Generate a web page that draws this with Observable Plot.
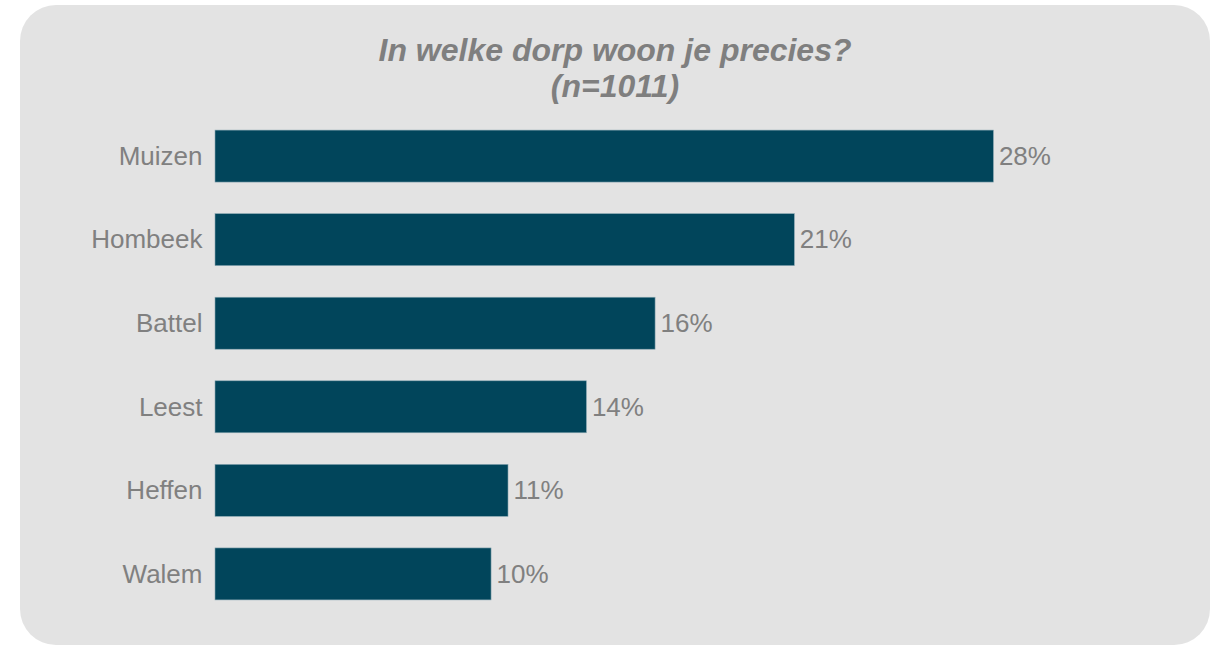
<!DOCTYPE html>
<html>
<head>
<meta charset="utf-8">
<script src="https://cdn.jsdelivr.net/npm/d3@7"></script>
<script src="https://cdn.jsdelivr.net/npm/@observablehq/plot@0.6"></script>
<style>
  html, body { margin: 0; padding: 0; background: #ffffff; }
  body { width: 1216px; height: 645px; position: relative; overflow: hidden; font-family: "Liberation Sans", Arial, sans-serif; }
  #panel { position: absolute; left: 20px; top: 5px; width: 1190px; height: 640px; border-radius: 36px; background: #e3e3e3; }
  #title { position: absolute; left: 0; width: 1230px; top: 32px; text-align: center; color: #7f7f7f; font-weight: bold; font-style: italic; font-size: 32px; line-height: 36px; }
  #chart { position: absolute; left: 0; top: 0; }
  #chart svg { background: transparent; overflow: visible; }
</style>
</head>
<body>
<div id="panel"></div>
<div id="title">In welke dorp woon je precies?<br>(n=1011)</div>
<div id="chart"></div>
<script>
const villages = ["Muizen", "Hombeek", "Battel", "Leest", "Heffen", "Walem"];
const shares = [28.0, 20.84, 15.83, 13.36, 10.54, 9.93];
const shareLabels = ["28%", "21%", "16%", "14%", "11%", "10%"];

const data = villages.map((v, i) => ({village: v, share: shares[i], label: shareLabels[i]}));

const chart = Plot.plot({
  width: 1216,
  height: 645,
  marginLeft: 215,
  marginRight: 28,
  marginTop: 98.5,
  marginBottom: 13.5,
  style: {background: "transparent", fontFamily: "'Liberation Sans', Arial, sans-serif", color: "#808080"},
  x: {domain: [0, 35], axis: null},
  y: {domain: villages, padding: 0.378, round: false, label: null},
  marks: [
    Plot.barX(data, {x: "share", y: "village", fill: "#01455b", stroke: "#8aa7b2", strokeWidth: 0.6}),
    Plot.text(data, {x: "share", y: "village", text: "label", textAnchor: "start", dx: 5, fontSize: 26, fill: "#808080"}),
    Plot.axisY({tickSize: 0, tickPadding: 13, fontSize: 26, label: null, color: "#808080"})
  ]
});
document.getElementById("chart").appendChild(chart);
</script>
</body>
</html>
